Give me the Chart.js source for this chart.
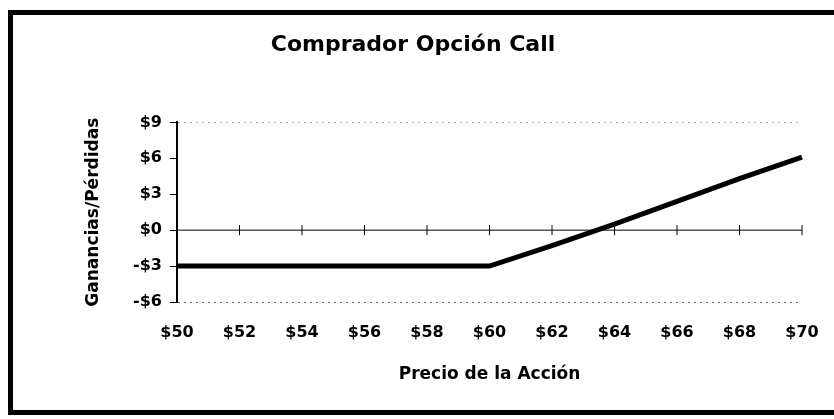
<!DOCTYPE html>
<html>
<head>
<meta charset="utf-8">
<script src="https://cdn.jsdelivr.net/npm/chart.js@4"></script>
<style>
  html, body { margin: 0; padding: 0; background: #fff; overflow: hidden; }
  #wrap { position: relative; width: 834px; height: 419px; }
  #frame { position: absolute; left: 8px; top: 10px; width: 900px; height: 395px;
           border: 5px solid #000; pointer-events: none; }
  canvas { position: absolute; left: 0; top: 0; }
</style>
</head>
<body>
<div id="wrap">
  <canvas id="chart" width="834" height="419"></canvas>
  <div id="frame"></div>
</div>
<script>
// precio de la acción
var precios = ['$50', '$52', '$54', '$56', '$58', '$60', '$62', '$64', '$66', '$68', '$70'];
// ganancias / pérdidas del comprador
var ganancias = [-3, -3, -3, -3, -3, -3, -1.3, 0.5, 2.4, 4.3, 6.1];
// línea de cero
var cero = [0, 0, 0, 0, 0, 0, 0, 0, 0, 0, 0];
var yTicks = [9, 6, 3, 0, -3, -6];

var FONT = '"DejaVu Sans", sans-serif';

function fmt(v) {
    return v < 0 ? '-$' + Math.abs(v) : '$' + v;
}

var ctx = document.getElementById('chart').getContext('2d');

var data = {
    labels: precios,
    datasets: [{
        label: 'Ganancias',
        data: ganancias,
        borderColor: '#000',
        borderWidth: 5,
        pointRadius: 0,
        tension: 0,
        order: 1
    }, {
        label: 'Cero',
        data: cero,
        borderColor: '#000',
        borderWidth: 1,
        pointStyle: 'line',
        rotation: 90,
        pointRadius: 5,
        pointBorderWidth: 1,
        pointBorderColor: '#000',
        tension: 0,
        order: 2
    }]
};

var options = {
    responsive: false,
    animation: false,
    layout: { padding: { left: 24, right: 32, top: 14, bottom: 34 } },
    plugins: {
        legend: { display: false },
        tooltip: { enabled: false },
        title: {
            display: true,
            text: 'Comprador Opción Call',
            color: '#000',
            font: { family: FONT, size: 22, weight: 'bold' },
            padding: { top: 18, bottom: 64 }
        }
    },
    scales: {
        x: {
            type: 'category',
            offset: false,
            grid: { display: false, drawTicks: false },
            border: { display: false },
            ticks: {
                color: '#000',
                padding: 21,
                maxRotation: 0,
                autoSkip: false,
                font: { family: FONT, size: 16, weight: 'bold' }
            },
            title: {
                display: true,
                text: 'Precio de la Acción',
                color: '#000',
                font: { family: FONT, size: 17, weight: 'bold' },
                padding: { top: 24, bottom: 0 }
            },
            afterFit: function (s) {
                s.height = 83;
                s.paddingLeft = 0;
                s.paddingRight = 0;
            }
        },
        y: {
            min: -6,
            max: 9,
            afterBuildTicks: function (s) {
                s.ticks = yTicks.map(function (v) { return { value: v }; });
            },
            grid: {
                color: function (c) {
                    if (c.tick && c.tick.value === 9) return '#aaa';
                    if (c.tick && c.tick.value === -6) return '#666';
                    return 'rgba(0,0,0,0)';
                },
                lineWidth: 1,
                drawTicks: true,
                tickLength: 7,
                tickColor: '#000',
                tickWidth: 1,
                tickBorderDash: []
            },
            border: { display: true, color: '#000', width: 2, dash: [2, 4] },
            ticks: {
                color: '#000',
                padding: 8,
                font: { family: FONT, size: 16, weight: 'bold' },
                callback: function (v) { return fmt(v); }
            },
            title: {
                display: true,
                text: 'Ganancias/Pérdidas',
                color: '#000',
                font: { family: FONT, size: 17, weight: 'bold' },
                padding: { top: 59, bottom: 0 }
            },
            afterFit: function (s) { s.width = 153; }
        }
    }
};

new Chart(ctx, {
    type: 'line',
    data: data,
    options: options
});
</script>
</body>
</html>
